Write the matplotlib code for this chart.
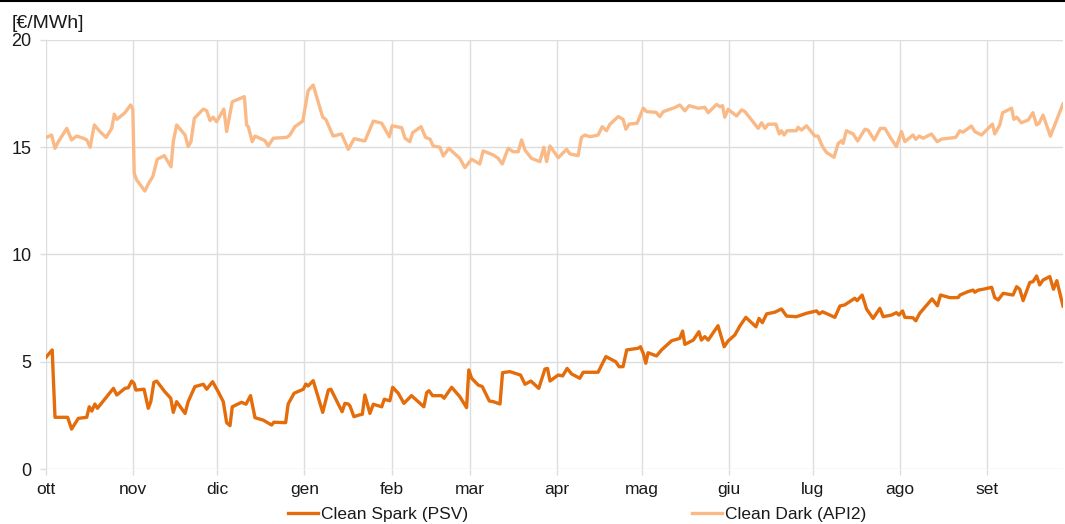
import datetime as dt
import numpy as np
import matplotlib
matplotlib.use("Agg")
import matplotlib.pyplot as plt
import matplotlib.dates as mdates
from matplotlib.ticker import FixedLocator

plt.rcParams['font.family'] = ['Liberation Sans', 'DejaVu Sans']

# ---- data (day offset from 1 Oct, value in EUR/MWh) ----
start_date = dt.datetime(2018, 10, 1)
end_day = 362

spark_days = [0, 2.2, 3.2, 7.7, 9.1, 11.5, 14.5, 15.4, 16.3, 17.4, 18.3, 24.0, 25.2, 28.1, 29.3, 30.5,
              31.3, 32.0, 34.9, 36.4, 37.3, 38.4, 39.4, 42.3, 44.4, 45.3, 46.5, 49.5, 50.6, 53.0, 56.0,
              57.2, 59.3, 61.3, 63.1, 64.3, 65.5, 66.3, 69.6, 71.2, 72.8, 74.4, 77.3, 80.3, 81.1, 85.3,
              86.2, 88.3, 91.6, 92.5, 93.3, 95.1, 98.5, 100.5, 101.4, 105.4, 106.4, 107.6, 108.2, 109.6,
              111.5, 112.6, 113.5, 115.3, 116.5, 119.5, 120.4, 122.4, 123.4, 125.4, 127.4, 130.1, 134.5,
              135.5, 136.3, 137.6, 140.8, 141.7, 144.4, 147.3, 149.7, 150.5, 151.5, 153.8, 155.3, 157.8,
              159.2, 161.6, 162.5, 165.1, 168.9, 170.5, 172.6, 175.4, 177.6, 178.5, 179.4, 182.3, 183.9,
              185.5, 187.1, 190.0, 191.2, 196.5, 199.3, 202.8, 204.0, 205.4, 206.7, 210.8, 211.6, 212.6,
              213.5, 214.3, 217.3, 219.1, 222.7, 225.6, 226.6, 227.4, 230.4, 232.4, 233.3, 234.5, 235.7,
              239.2, 241.4, 242.8, 245.2, 247.0, 249.1, 252.7, 253.8, 255.0, 256.5, 259.4, 261.8, 263.6,
              267.1, 270.7, 274.3, 275.2, 276.4, 280.8, 282.6, 284.3, 287.9, 288.7, 290.5, 292.1, 294.4,
              296.8, 298.0, 301.0, 302.7, 303.6, 304.9, 305.7, 308.6, 309.6, 311.0, 315.4, 317.3, 318.4,
              321.7, 324.7, 325.3, 328.2, 330.0, 330.6, 331.8, 333.6, 336.6, 337.7, 338.9, 340.7, 344.2,
              345.5, 346.6, 347.8, 350.2, 351.3, 352.6, 353.7, 354.9, 357.3, 358.6, 359.8, 362.0]
spark_vals = [5.21, 5.55, 2.41, 2.41, 1.86, 2.36, 2.41, 2.90, 2.70, 3.03, 2.83, 3.76, 3.45, 3.76, 3.79, 4.10,
              4.00, 3.68, 3.72, 2.83, 3.14, 4.04, 4.10, 3.60, 3.30, 2.64, 3.14, 2.59, 3.14, 3.84, 3.95,
              3.72, 4.07, 3.60, 3.14, 2.16, 2.02, 2.90, 3.11, 3.02, 3.42, 2.39, 2.28, 2.05, 2.18, 2.16,
              3.03, 3.53, 3.72, 3.96, 3.87, 4.12, 2.64, 3.68, 3.72, 2.67, 3.06, 3.03, 2.94, 2.44,
              2.52, 2.55, 3.45, 2.59, 3.02, 2.90, 3.25, 3.18, 3.81, 3.53, 3.06, 3.42, 2.90,
              3.56, 3.65, 3.42, 3.42, 3.30, 3.81, 3.37, 2.86, 4.62, 4.23, 3.92, 3.84, 3.17,
              3.14, 3.03, 4.49, 4.54, 4.38, 3.95, 4.10, 3.76, 4.66, 4.69, 4.10, 4.38, 4.34,
              4.69, 4.43, 4.23, 4.51, 4.51, 5.24, 5.00, 4.77, 4.77, 5.55, 5.63, 5.70, 5.39,
              4.93, 5.42, 5.27, 5.55, 5.98, 6.09, 6.43, 5.81, 6.01, 6.40, 6.01, 6.17, 6.01,
              6.68, 5.70, 5.97, 6.25, 6.67, 7.07, 6.63, 7.02, 6.82, 7.23, 7.31, 7.46, 7.13,
              7.10, 7.26, 7.37, 7.23, 7.33, 7.07, 7.60, 7.65, 7.96, 7.85, 8.11, 7.45, 7.02,
              7.49, 7.10, 7.18, 7.29, 7.18, 7.37, 7.07, 7.05, 6.91, 7.26, 7.93, 7.61, 8.11,
              7.99, 7.99, 8.11, 8.27, 8.34, 8.24, 8.34, 8.38, 8.47, 7.99, 7.88, 8.19, 8.11,
              8.50, 8.38, 7.85, 8.70, 8.73, 9.00, 8.58, 8.81, 8.97, 8.38, 8.78, 7.60]

dark_days = [0, 2.0, 3.2, 4.4, 7.4, 9.1, 10.9, 13.3, 14.5, 15.7, 17.2, 19.2, 21.4, 23.4, 24.3, 25.2, 28.1,
             30.1, 30.9, 31.4, 32.3, 35.2, 36.4, 38.0, 39.6, 42.1, 44.5, 45.3, 46.5, 49.5, 50.6, 51.6,
             52.8, 56.0, 57.2, 58.4, 59.5, 60.7, 63.3, 64.3, 66.3, 70.6, 71.4, 72.0, 73.4, 74.4, 77.9,
             79.1, 80.9, 85.7, 86.8, 88.6, 91.4, 93.3, 95.1, 98.5, 99.6, 102.2, 105.2, 107.6, 109.7,
             113.5, 116.5, 119.5, 122.2, 123.2, 126.6, 127.8, 129.5, 130.5, 133.5, 135.1, 136.7, 137.8,
             140.2, 141.4, 143.4, 147.3, 149.1, 151.5, 154.4, 155.6, 159.2, 161.0, 162.4, 164.5, 166.3,
             168.1, 169.3, 170.5, 172.8, 175.8, 177.2, 178.2, 179.4, 182.3, 185.3, 186.5, 189.4, 190.6,
             191.8, 193.6, 196.5, 198.0, 199.5, 200.7, 203.7, 205.4, 206.4, 207.6, 210.4, 212.6, 213.8,
             217.1, 218.5, 219.7, 223.8, 225.6, 227.4, 228.9, 232.1, 234.5, 235.7, 238.7, 239.9, 240.8,
             241.6, 242.8, 245.8, 247.6, 248.8, 253.5, 254.7, 255.9, 257.0, 259.8, 261.0, 261.8, 262.7,
             263.8, 267.1, 267.7, 268.9, 270.7, 273.7, 274.8, 276.4, 277.8, 280.5, 282.0, 283.2, 283.7,
             284.9, 287.3, 288.9, 291.5, 292.6, 294.8, 297.0, 298.6, 300.7, 302.7, 304.5, 305.7, 308.6,
             309.6, 310.8, 312.2, 315.2, 317.2, 318.8, 323.8, 325.3, 326.4, 329.4, 330.6, 333.0, 336.9,
             337.7, 339.5, 340.5, 343.7, 344.5, 345.5, 347.2, 349.6, 351.3, 352.6, 353.5, 354.9, 357.5,
             362.0]
dark_vals = [15.45, 15.57, 14.95, 15.26, 15.88, 15.34, 15.52, 15.42, 15.34, 15.00, 16.04, 15.73, 15.46, 15.88,
             16.54, 16.30, 16.61, 16.97, 16.77, 13.78, 13.47, 12.96, 13.29, 13.63, 14.44, 14.61, 14.09, 15.26,
             16.04, 15.57, 15.03, 15.26, 16.35, 16.78, 16.70, 16.24, 16.40, 16.19, 16.78, 15.73, 17.12, 17.36,
             16.04, 15.96, 15.26, 15.52, 15.31, 15.06, 15.42, 15.46, 15.57, 15.96, 16.22, 17.64, 17.90, 16.40,
             16.30, 15.52, 15.62, 14.90, 15.40, 15.29, 16.22, 16.12, 15.49, 16.00, 15.91, 15.42, 15.26, 15.68,
             15.96, 15.46, 15.38, 15.06, 15.00, 14.59, 14.95, 14.48, 14.05, 14.44, 14.22, 14.83, 14.64, 14.48,
             14.22, 14.95, 14.79, 14.79, 15.34, 14.87, 14.48, 14.33, 15.00, 14.33, 15.06, 14.51, 14.90, 14.69,
             14.61, 15.46, 15.57, 15.49, 15.57, 15.96, 15.77, 16.07, 16.43, 16.30, 15.84, 16.08, 16.12, 16.82,
             16.66, 16.63, 16.43, 16.66, 16.85, 16.97, 16.70, 16.94, 16.82, 16.86, 16.61, 17.00, 16.89, 16.94,
             16.40, 16.77, 16.46, 16.74, 16.66, 15.88, 16.14, 15.88, 16.07, 16.08, 15.62, 15.77, 15.57, 15.77,
             15.77, 15.93, 15.80, 16.00, 15.52, 15.52, 15.03, 14.76, 14.53, 15.18, 15.31, 15.18, 15.77, 15.62,
             15.29, 15.84, 15.80, 15.34, 15.88, 15.88, 15.42, 15.03, 15.73, 15.26, 15.57, 15.37, 15.52, 15.42,
             15.62, 15.26, 15.38, 15.46, 15.77, 15.70, 15.99, 15.73, 15.57, 16.08, 15.62, 16.04, 16.61, 16.82,
             16.30, 16.40, 16.14, 16.27, 16.61, 16.04, 16.12, 16.50, 15.52, 17.02]

month_labels = ['ott', 'nov', 'dic', 'gen', 'feb', 'mar', 'apr', 'mag', 'giu', 'lug', 'ago', 'set']
y_ticks = [0, 5, 10, 15, 20]
unit_label = '[€/MWh]'
series_names = ['Clean Spark (PSV)', 'Clean Dark (API2)']

# ---- figure ----
W, H = 1065, 524
fig = plt.figure(figsize=(W / 100, H / 100), dpi=100)
ax = fig.add_axes([46 / W, 1 - 469 / H, (1063 - 46) / W, (469 - 40) / H])

base = mdates.date2num(start_date)
xs = base + np.array(spark_days)
xd = base + np.array(dark_days)

l1, = ax.plot(xs, spark_vals, color='#E46C0A', lw=2.4, solid_joinstyle='round', zorder=3)
l2, = ax.plot(xd, dark_vals, color='#F9BA88', lw=2.4, solid_joinstyle='round', zorder=2)

ax.set_xlim(base, base + end_day)
ax.set_ylim(0, 20)

month_ticks = [mdates.date2num(dt.datetime(2018 + (10 + i - 1) // 12, (10 + i - 1) % 12 + 1, 1)) for i in range(12)]
ax.xaxis.set_major_locator(FixedLocator(month_ticks))
ax.set_xticklabels(month_labels)
ax.set_yticks(y_ticks)
ax.set_yticklabels([str(v) for v in y_ticks])

grid_c = '#DDDDDD'
ax.grid(True, color=grid_c, lw=1.0, zorder=0)
ax.set_axisbelow(True)
for s in ax.spines.values():
    s.set_visible(False)
ax.tick_params(axis='both', colors=grid_c, length=4.5, width=1.0, labelcolor='#1a1a1a')
ax.tick_params(axis='x', pad=5, labelsize=12.5)
ax.tick_params(axis='y', pad=6, labelsize=13)

fig.text(12 / W, 1 - 24 / H, unit_label, fontsize=14, va='center', ha='left', color='#1a1a1a')

leg = fig.legend([l1, l2], series_names, loc='center', bbox_to_anchor=(577 / W, 1 - 514 / H),
                 ncol=2, frameon=False, fontsize=12.5, handlelength=1.75, handletextpad=0.15,
                 columnspacing=12.9, borderpad=0, borderaxespad=0)
for t in leg.get_texts():
    t.set_color('#1a1a1a')

# top border line
fig.add_artist(plt.Line2D([0, 1], [1 - 1 / H, 1 - 1 / H], transform=fig.transFigure, color='black', lw=1.5))

fig.savefig('out.png', dpi=100)
